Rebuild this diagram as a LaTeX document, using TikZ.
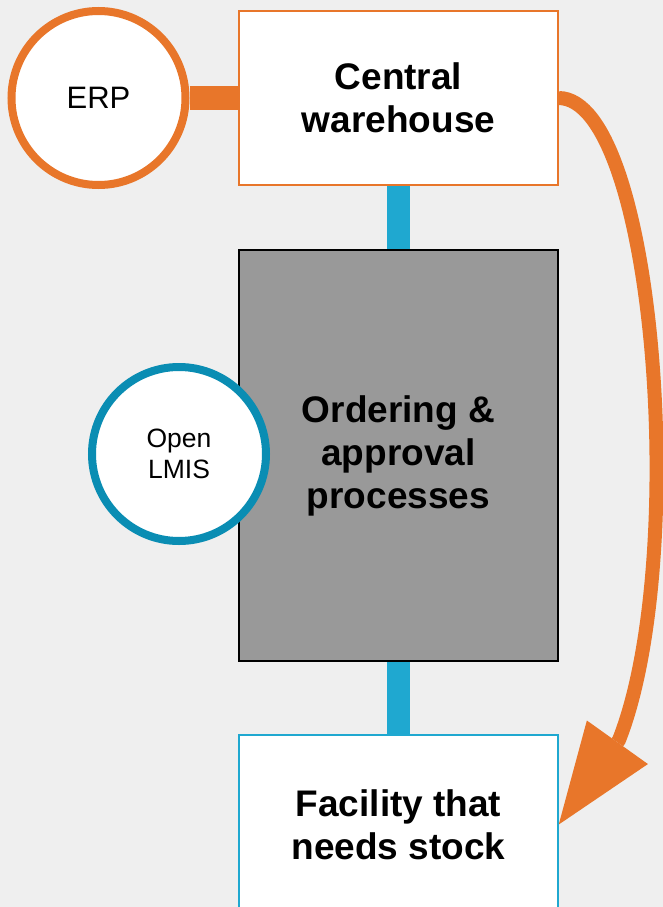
\documentclass[tikz,border=0pt]{standalone}
\usepackage{fontspec}
\setmainfont{Liberation Sans}
\usetikzlibrary{arrows.meta,backgrounds}
\definecolor{bgc}{HTML}{EFEFEF}
\definecolor{orangec}{HTML}{E8762A}
\definecolor{bluec}{HTML}{1FA8D0}
\definecolor{tealc}{HTML}{0A8DB3}
\definecolor{grayc}{HTML}{999999}
\tikzset{
  bigtext/.style={font=\fontsize{37}{43}\selectfont\bfseries, align=center, text=black},
  box/.style={rectangle, minimum width=319pt, inner sep=0pt},
  ring/.style={circle, minimum size=174pt, inner sep=0pt, line width=8pt, fill=white},
  bluelink/.style={draw=bluec, line width=23pt},
  orangelink/.style={draw=orangec, line width=24pt},
  flow/.style={draw=orangec, line width=14pt, -{Triangle[length=101pt,width=75pt,line width=0pt]}}
}
\begin{document}
\begin{tikzpicture}[x=1pt,y=-1pt]
\useasboundingbox (0,0) rectangle (663,907);
\node[box, bigtext, minimum height=174pt, fill=white, draw=orangec, line width=1.5pt] (wh) at (398.5,98) {Central\\warehouse};
\node[box, bigtext, minimum height=411pt, fill=grayc, draw=black, line width=2pt] (proc) at (398.5,455.5) {Ordering \&\\approval\\processes};
\node[box, bigtext, minimum height=179pt, fill=white, draw=bluec, line width=1.5pt] (fac) at (398.5,824.5) {Facility that\\needs stock};
\node[ring, draw=orangec, font=\fontsize{31}{36}\selectfont] (erp) at (98.5,98) {ERP};
\node[ring, draw=tealc, align=center, font=\fontsize{26.5}{31.5}\selectfont] (lmis) at (179,454) {Open\\LMIS};
\coordinate (bend) at (619,740);
\begin{pgfonlayer}{background}
\fill[bgc] (0,0) rectangle (663,907);
\draw[orangelink] (erp) -- (wh);
\draw[bluelink] (wh.south) -- (proc.north);
\draw[bluelink] (proc.south) -- (fac.north);
\draw[flow] (wh.east) .. controls (655,99) and (690,560) .. (bend) -- (fac.east);
\end{pgfonlayer}
\end{tikzpicture}
\end{document}
